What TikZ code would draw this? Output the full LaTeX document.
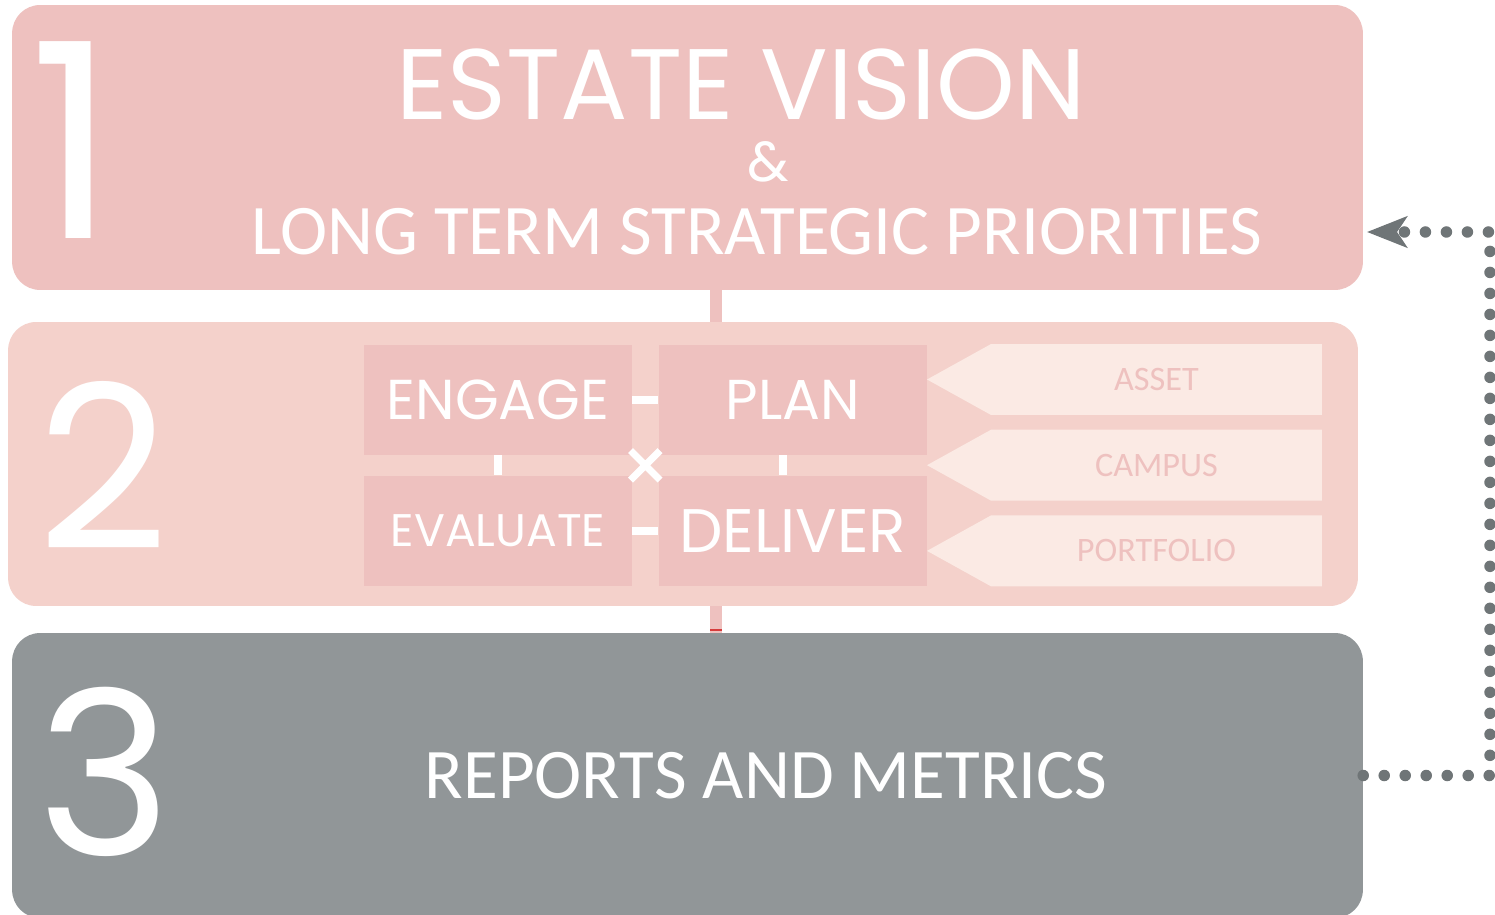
\documentclass[tikz,border=0pt]{standalone}
\usepackage{fontspec}
\setmainfont{Carlito}
\newfontfamily\kreide{Poppins}
\usepackage{tikz}
\usetikzlibrary{calc}
\usetikzlibrary{positioning}
\usetikzlibrary{arrows.meta,shapes,shapes.symbols,shapes.misc}
\definecolor{rosa}{RGB}{238,193,191}
\definecolor{hellrosa}{RGB}{244,209,203}
\definecolor{blass}{RGB}{251,234,228}
\definecolor{schiefer}{RGB}{145,150,152}
\definecolor{punktgrau}{RGB}{111,117,119}
\definecolor{stegrot}{RGB}{214,60,60}
\tikzset{
	band/.style={
		rectangle, 
		rounded corners=0.56cm,
		minimum width=27.02cm, 
		minimum height=5.7cm, 
		inner sep=0pt},
	kachel/.style={
		rectangle, 
		fill=rosa,
		minimum width=5.36cm, 
		minimum height=2.2cm, 
		inner sep=0pt,
		text=white},
	pfeilfeld/.style={
		signal, 
		signal to=west,
		signal pointer angle=58,
		fill=blass,
		minimum width=7.9cm, 
		minimum height=1.42cm, 
		inner sep=0pt,
		text=rosa,
		font=\fontsize{19.5}{19.5}\selectfont},
	ziffer/.style={text=white, inner sep=0pt, font=\kreide\fontsize{130}{130}\selectfont},
	schrift/.style={text=white, inner sep=0pt},
	steg/.style={draw=rosa, line width=0.24cm},
	strich/.style={draw=white, line width=0.16cm},
	punktlinie/.style={draw=punktgrau, line width=0.23cm, line cap=round,
		dash pattern=on 0pt off 0.42cm,
		-{Stealth[length=0.8cm, width=0.62cm, inset=0.2cm]}},
}

\begin{document}
\begin{tikzpicture}
	 		[x=0.02cm, y=-0.02cm, node distance=.5cm]
	 		\fill[white] (0,0) rectangle (1495,915);
	 		\useasboundingbox (0,0) rectangle (1495,915);
	 		% die drei Stufen
	 		\node[band, fill=rosa] (eins) at (687.5,147.5) {};
	 		\node[band, fill=hellrosa, minimum width=27cm, minimum height=5.68cm] (zwei) at (683,464) {};
	 		\node[band, fill=schiefer] (drei) at (687.5,775.5) {};
	 		\draw[steg] (eins.south -| 716,0) -- (zwei.north -| 716,0);
	 		\draw[steg] (zwei.south -| 716,0) -- (drei.north -| 716,0);
	 		\draw[stegrot, line width=0.05cm] (710,630) -- (722,630);
	 		
	 		\node[ziffer, font=\kreide\fontsize{155}{155}\selectfont] (z1) at (73,140) {1};
	 		\node[ziffer] (z2) at (103,465) {2};
	 		\node[ziffer] (z3) at (105,772) {3};
	 		
	 		\node[schrift, font=\kreide\fontsize{57}{57}\selectfont] (titel) at (741,85) {ESTATE VISION};
	 		\node[schrift, font=\kreide\fontsize{32}{32}\selectfont] (und) at (768,162) {\&};
	 		\node[schrift, font=\fontsize{40.5}{40.5}\selectfont] (langfrist) at (757,232) {LONG TERM STRATEGIC PRIORITIES};
	 		\node[schrift, font=\fontsize{40.5}{40.5}\selectfont] (berichte) at (766,776) {REPORTS AND METRICS};
	 		
	 		% Zyklus
	 		\node[kachel, font=\kreide\fontsize{32}{32}\selectfont] (engage) at (498,400) {ENGAGE};
	 		\node[kachel, right=0.52cm of engage, font=\kreide\fontsize{32}{32}\selectfont] (plan) {PLAN};
	 		\node[kachel, below=0.4cm of engage, font=\kreide\fontsize{26}{26}\selectfont] (evaluate) {EVALUATE};
	 		\node[kachel, right=0.52cm of evaluate, font=\kreide\fontsize{35}{35}\selectfont] (deliver) {DELIVER};
	 		\draw[strich] (engage) -- (plan);
	 		\draw[strich] (evaluate) -- (deliver);
	 		\draw[strich] (engage) -- (evaluate);
	 		\draw[strich] (plan.south -| 783,0) -- (deliver.north -| 783,0);
	 		\node[cross out, draw=white, line width=0.14cm, minimum size=0.45cm] (kreuz) at ($(engage.south east)!0.5!(deliver.north west)$) {};
	 		
	 		\node[pfeilfeld] (asset) at (1156.5,379.5) {ASSET};
	 		\node[pfeilfeld, below=0.28cm of asset] (campus) {CAMPUS};
	 		\node[pfeilfeld, below=0.28cm of campus] (portfolio) {PORTFOLIO};
	 		
	 		% Rueckkopplung
	 		\coordinate (oben) at (1490,232);
	 		\coordinate (spitze) at (1367,232);
	 		\draw[punktlinie] (drei.east) -| (oben) -- (spitze);
	 		
	 		\end{tikzpicture}
\end{document}
